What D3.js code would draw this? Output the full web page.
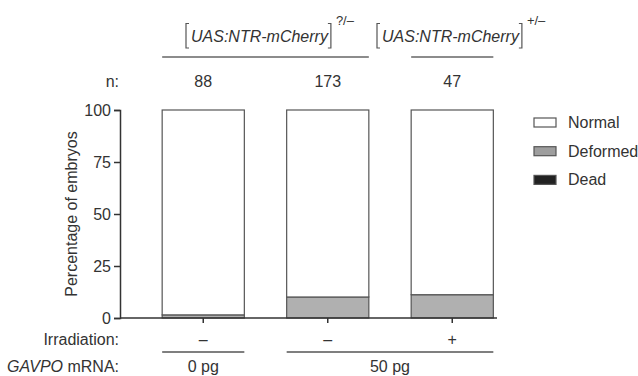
<!DOCTYPE html>
<html>
<head>
<meta charset="utf-8">
<script src="https://cdn.jsdelivr.net/npm/d3@7"></script>
<style>
  body { margin: 0; background: #fff; }
  svg { font-family: "Liberation Sans", Arial, sans-serif; }
  text { fill: #333; }
</style>
</head>
<body>
<svg width="638" height="376"></svg>
<script>
// data
const groups = ["A", "B", "C"];
const nValues = [88, 173, 47];
const normal = [98.5, 89.9, 88.8];
const deformed = [1.5, 10.1, 11.2];
const dead = [0, 0, 0];
const irradiation = ["–", "–", "+"];
const yTicks = [0, 25, 50, 75, 100];
const categories = ["Normal", "Deformed", "Dead"];
const catColors = ["#ffffff", "#9e9e9e", "#222222"];
const barColors = ["#ffffff", "#b0b0b0", "#222222"];

const svg = d3.select("svg");
const fs = 16;

const x = d3.scaleBand().domain(groups).range([141, 514.5]).paddingInner(0.34).paddingOuter(0.17);
const y = d3.scaleLinear().domain([0, 100]).range([318, 110]);

// stack the series
const rows = groups.map((g, i) => ({ g: g, Normal: normal[i], Deformed: deformed[i], Dead: dead[i] }));
const stack = d3.stack().keys(["Dead", "Deformed", "Normal"])(rows);

const color = d3.scaleOrdinal().domain(categories).range(barColors);

svg.append("g").selectAll("g")
  .data(stack)
  .join("g")
  .attr("fill", d => color(d.key))
  .selectAll("rect")
  .data(d => d.filter(p => p[1] - p[0] > 0))
  .join("rect")
    .attr("x", d => x(d.data.g))
    .attr("width", x.bandwidth())
    .attr("y", d => y(d[1]))
    .attr("height", d => y(d[0]) - y(d[1]))
    .attr("stroke", "#555")
    .attr("stroke-width", 1.2);

// y axis
const yAxis = svg.append("g")
  .attr("transform", "translate(120,0)")
  .call(d3.axisLeft(y).tickValues(yTicks).tickSize(6).tickPadding(3));
yAxis.select(".domain").attr("stroke", "#333").attr("stroke-width", 1.5);
yAxis.selectAll(".tick line").attr("stroke", "#333").attr("stroke-width", 1.5);
yAxis.selectAll(".tick text").attr("font-size", fs).attr("fill", "#333").attr("font-family", null);

// x baseline and ticks
svg.append("line")
  .attr("x1", 120).attr("x2", 497)
  .attr("y1", y(0)).attr("y2", y(0))
  .attr("stroke", "#333").attr("stroke-width", 1.5);
const xAxis = svg.append("g")
  .attr("transform", `translate(0,${y(0)})`)
  .call(d3.axisBottom(x).tickSize(5).tickFormat(""));
xAxis.select(".domain").remove();
xAxis.selectAll(".tick line").attr("stroke", "#333").attr("stroke-width", 1.5);

svg.append("text")
  .attr("transform", `translate(77,${(y(0) + y(100)) / 2}) rotate(-90)`)
  .attr("text-anchor", "middle")
  .attr("font-size", fs)
  .text("Percentage of embryos");

// n row
const cx = g => x(g) + x.bandwidth() / 2;
svg.append("text").attr("x", 119).attr("y", 87).attr("text-anchor", "end").attr("font-size", fs).text("n:");
svg.append("g").selectAll("text")
  .data(groups)
  .join("text")
  .attr("x", cx)
  .attr("y", 87)
  .attr("text-anchor", "middle")
  .attr("font-size", fs)
  .text((g, i) => nValues[i]);

// genotype header
function header(x0, x1, lx, sup) {
  svg.append("line").attr("x1", x0).attr("x2", x1).attr("y1", 57).attr("y2", 57)
    .attr("stroke", "#666").attr("stroke-width", 1.6);
  const g = svg.append("g");
  const t = g.append("text").attr("x", lx + 5).attr("y", 41.5).attr("font-size", fs)
    .attr("font-style", "italic").text("UAS:NTR-mCherry");
  const w = t.node().getComputedTextLength();
  const br = (bx, dir) => g.append("path")
    .attr("d", `M${bx + dir * 3},23.5 H${bx} V48 H${bx + dir * 3}`)
    .attr("fill", "none").attr("stroke", "#555").attr("stroke-width", 1.2);
  br(lx, 1);
  br(lx + w + 8, -1);
  g.append("text").attr("x", lx + w + 13).attr("y", 25).attr("font-size", 13).text(sup);
}
header(x("A"), x("B") + x.bandwidth(), 186, "?/–");
header(x("C"), x("C") + x.bandwidth(), 377, "+/–");

// irradiation row
svg.append("text").attr("x", 119).attr("y", 345).attr("text-anchor", "end").attr("font-size", fs).text("Irradiation:");
svg.append("g").selectAll("text")
  .data(groups)
  .join("text")
  .attr("x", cx)
  .attr("y", 345)
  .attr("text-anchor", "middle")
  .attr("font-size", fs)
  .text((g, i) => irradiation[i]);

// mRNA row
svg.append("line").attr("x1", x("A")).attr("x2", x("A") + x.bandwidth()).attr("y1", 352).attr("y2", 352)
  .attr("stroke", "#555").attr("stroke-width", 1.5);
svg.append("line").attr("x1", x("B")).attr("x2", x("C") + x.bandwidth()).attr("y1", 352).attr("y2", 352)
  .attr("stroke", "#555").attr("stroke-width", 1.5);
const mrna = svg.append("text").attr("x", 119).attr("y", 372).attr("text-anchor", "end").attr("font-size", fs);
mrna.append("tspan").attr("font-style", "italic").text("GAVPO");
mrna.append("tspan").text(" mRNA:");
svg.append("text").attr("x", cx("A")).attr("y", 372).attr("text-anchor", "middle").attr("font-size", fs).text("0 pg");
svg.append("text").attr("x", (x("B") + x("C") + x.bandwidth()) / 2).attr("y", 372).attr("text-anchor", "middle").attr("font-size", fs).text("50 pg");

// legend
const legend = svg.append("g").selectAll("g")
  .data(categories)
  .join("g")
  .attr("transform", (d, i) => `translate(534,${118 + i * 28.7})`);
legend.append("rect").attr("width", 22).attr("height", 9)
  .attr("fill", (d, i) => catColors[i]).attr("stroke", "#555").attr("stroke-width", 1.2);
legend.append("text").attr("x", 34).attr("y", 10).attr("font-size", fs).text(d => d);
</script>
</body>
</html>
